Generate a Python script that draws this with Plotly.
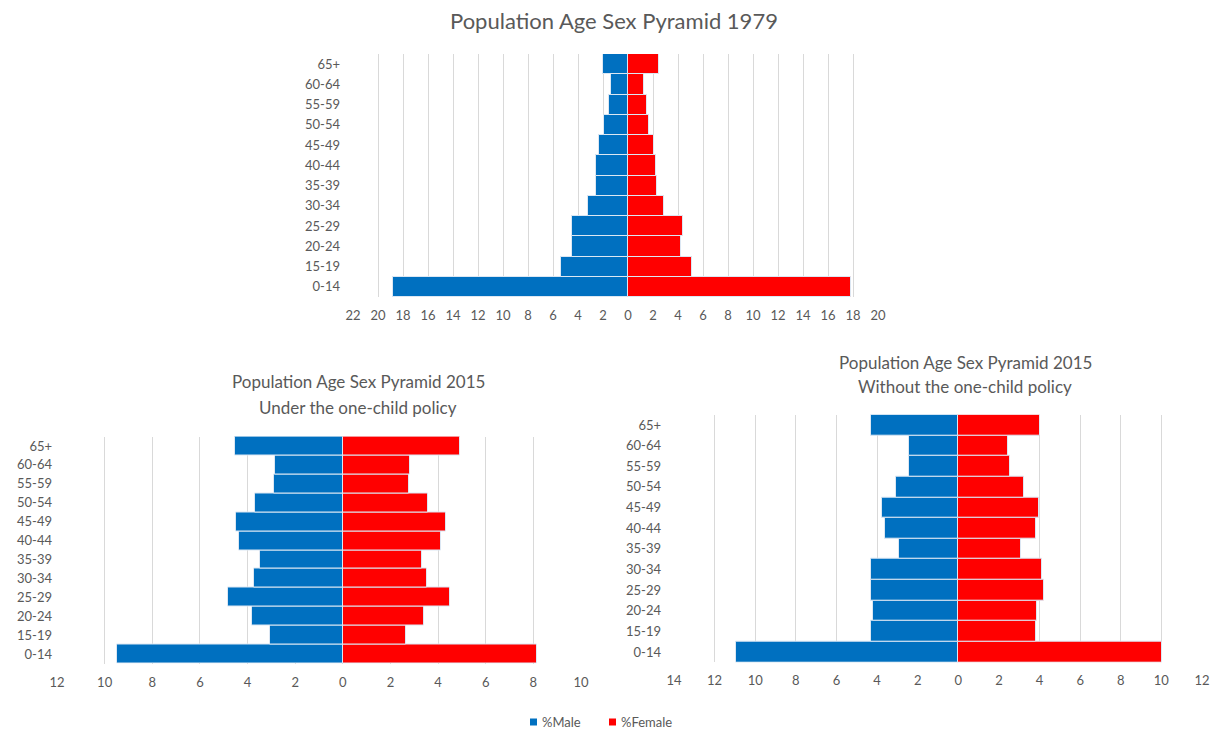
import plotly.graph_objects as go

# Age groups, listed from the bottom of the pyramid upwards
age_groups = ["0-14", "15-19", "20-24", "25-29", "30-34", "35-39",
              "40-44", "45-49", "50-54", "55-59", "60-64", "65+"]

# Share of total population (%) by age group
male_1979 = [18.8, 5.4, 4.5, 4.5, 3.2, 2.6, 2.6, 2.35, 1.95, 1.55, 1.4, 2.0]
female_1979 = [17.8, 5.1, 4.25, 4.4, 2.9, 2.35, 2.25, 2.1, 1.7, 1.5, 1.3, 2.5]

male_2015_policy = [9.47, 3.04, 3.81, 4.8, 3.74, 3.49, 4.34, 4.48, 3.7, 2.9, 2.83, 4.53]
female_2015_policy = [8.14, 2.67, 3.42, 4.48, 3.52, 3.31, 4.11, 4.35, 3.57, 2.77, 2.82, 4.91]

male_2015_nopolicy = [10.97, 4.31, 4.2, 4.31, 4.31, 2.9, 3.6, 3.78, 3.08, 2.43, 2.43, 4.31]
female_2015_nopolicy = [10.04, 3.84, 3.89, 4.2, 4.13, 3.08, 3.84, 3.95, 3.24, 2.54, 2.47, 4.0]

# Axis ticks for each panel (male side drawn as negative)
ticks_1979 = list(range(-22, 21, 2))
ticks_policy = list(range(-12, 11, 2))
ticks_nopolicy = list(range(-14, 13, 2))

series_names = ["%Male", "%Female"]

MALE_COLOR = "#0070C0"
FEMALE_COLOR = "#FF0000"
TEXT_COLOR = "#595959"
GRID_COLOR = "#d9d9d9"
EDGE_COLOR = "#dce7f3"
FONT = "Lato, 'Open Sans', sans-serif"

W, H = 1214, 730

fig = go.Figure()

panels = [
    ("x", "y", male_1979, female_1979),
    ("x2", "y2", male_2015_policy, female_2015_policy),
    ("x3", "y3", male_2015_nopolicy, female_2015_nopolicy),
]
for xa, ya, male, female in panels:
    fig.add_trace(go.Bar(
        y=age_groups, x=[-v for v in male], orientation="h", name=series_names[0],
        marker=dict(color=MALE_COLOR, line=dict(color=EDGE_COLOR, width=1)),
        xaxis=xa, yaxis=ya, showlegend=False,
        customdata=male, hovertemplate="%{y}: %{customdata}%<extra>%Male</extra>",
    ))
    fig.add_trace(go.Bar(
        y=age_groups, x=female, orientation="h", name=series_names[1],
        marker=dict(color=FEMALE_COLOR, line=dict(color=EDGE_COLOR, width=1)),
        xaxis=xa, yaxis=ya, showlegend=False,
        hovertemplate="%{y}: %{x}%<extra>%Female</extra>",
    ))


def px_x(p):
    return p / W


def px_y(p):
    return 1 - p / H


def xaxis_cfg(ticks, x0, x1):
    return dict(
        domain=[px_x(x0), px_x(x1)],
        range=[ticks[0], ticks[-1]],
        tickvals=ticks, ticktext=[str(abs(t)) for t in ticks],
        showgrid=True, gridcolor=GRID_COLOR, gridwidth=1,
        zeroline=False, showline=False, ticks="",
        tickfont=dict(size=13, color=TEXT_COLOR, family=FONT),
        ticklabelstandoff=9, automargin=False,
        fixedrange=True,
    )


def yaxis_cfg(anchor, top, bottom, standoff):
    return dict(
        domain=[px_y(bottom), px_y(top)],
        anchor=anchor, type="category",
        range=[-0.5, len(age_groups) - 0.5],
        showgrid=False, zeroline=False, showline=False, ticks="",
        tickfont=dict(size=13, color=TEXT_COLOR, family=FONT),
        ticklabelstandoff=standoff, automargin=False,
        fixedrange=True,
    )


fig.update_layout(
    width=W, height=H, autosize=False,
    margin=dict(l=0, r=0, t=0, b=0, pad=0, autoexpand=False),
    paper_bgcolor="white", plot_bgcolor="white",
    barmode="overlay", bargap=0,
    font=dict(family=FONT, color=TEXT_COLOR),
    showlegend=False,
    xaxis=dict(anchor="y", **xaxis_cfg(ticks_1979, 353, 878)),
    yaxis=yaxis_cfg("x", 54, 297, 12),
    xaxis2=dict(anchor="y2", **xaxis_cfg(ticks_policy, 57, 581)),
    yaxis2=yaxis_cfg("x2", 436.5, 663.5, 4),
    xaxis3=dict(anchor="y3", **xaxis_cfg(ticks_nopolicy, 674, 1202)),
    yaxis3=yaxis_cfg("x3", 414.7, 662.3, 12),
)

# Panel titles
titles = [
    ("Population Age Sex Pyramid 1979", 614, 20, 22),
    ("Population Age Sex Pyramid 2015", 358, 382, 17),
    ("Under the one-child policy", 358, 407, 17),
    ("Population Age Sex Pyramid 2015", 965, 362, 17),
    ("Without the one-child policy", 965, 386, 17),
]
for text, cx, cy, size in titles:
    fig.add_annotation(
        text=text, xref="paper", yref="paper",
        x=px_x(cx), y=px_y(cy), xanchor="center", yanchor="middle",
        showarrow=False, font=dict(size=size, color=TEXT_COLOR, family=FONT),
    )

# Shared legend: small colour swatch followed by the series name
legend_items = [(series_names[0], MALE_COLOR, 530), (series_names[1], FEMALE_COLOR, 609)]
legend_y = 722
for name, color, sx in legend_items:
    fig.add_shape(
        type="rect", xref="paper", yref="paper",
        x0=px_x(sx), x1=px_x(sx + 7), y0=px_y(legend_y + 3.5), y1=px_y(legend_y - 3.5),
        fillcolor=color, line=dict(width=0),
    )
    fig.add_annotation(
        text=name, xref="paper", yref="paper",
        x=px_x(sx + 10), y=px_y(legend_y), xanchor="left", yanchor="middle",
        showarrow=False, font=dict(size=13, color=TEXT_COLOR, family=FONT),
    )

fig.write_html("out.html")
